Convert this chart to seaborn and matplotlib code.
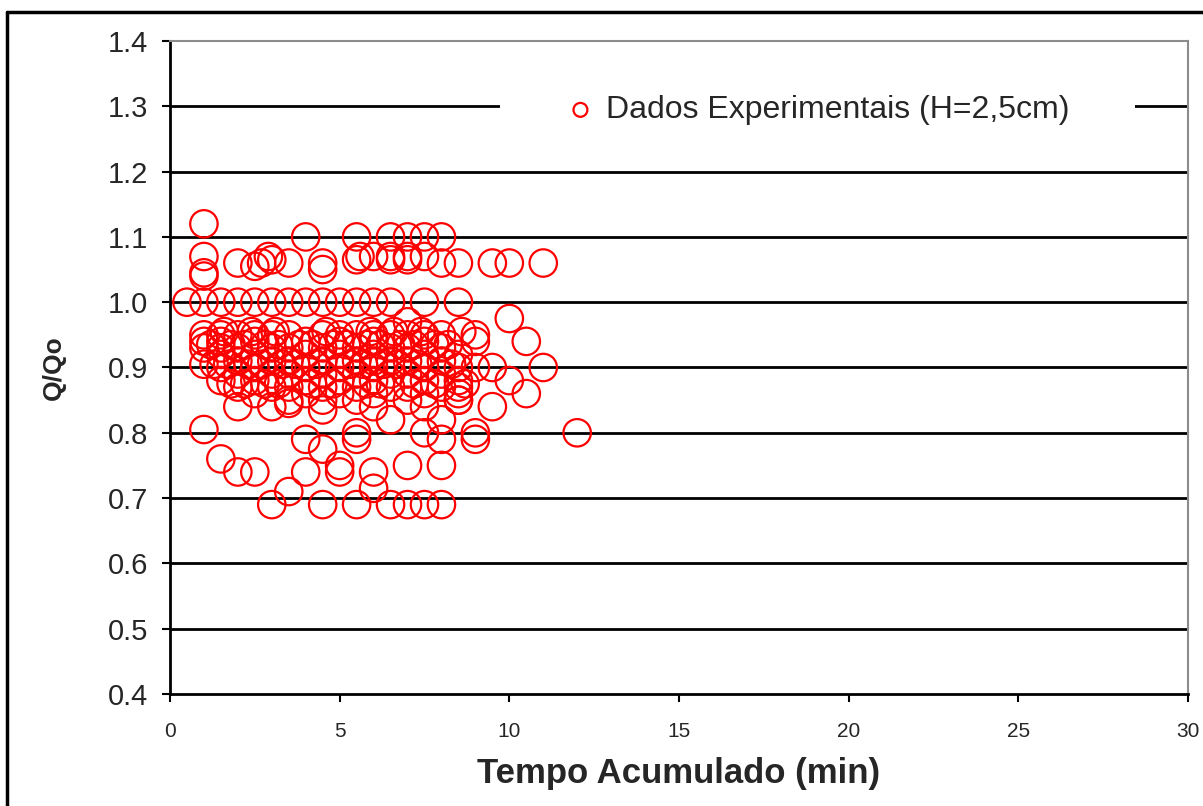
import numpy as np
import pandas as pd
import matplotlib
matplotlib.use("Agg")
import matplotlib.pyplot as plt
import seaborn as sns
from matplotlib.lines import Line2D
from matplotlib.patches import Rectangle

# ---------------------------------------------------------
# Data (Tempo Acumulado in min, Q/Qo)
# ---------------------------------------------------------
upper_x = [1, 1, 1, 1,
           4, 5.5, 6.5, 7, 7.5, 8,
           2, 2.5, 2.7, 3, 2.9, 3.5, 4.5, 4.5, 5.5, 5.6, 6, 6.5, 6.5,
           7, 7, 7.5, 8, 8.5, 9.5, 10, 11]
upper_y = [1.12, 1.07, 1.045, 1.04,
           1.10, 1.10, 1.10, 1.10, 1.10, 1.10,
           1.06, 1.055, 1.06, 1.065, 1.07, 1.06, 1.06, 1.05, 1.065, 1.07, 1.07, 1.065, 1.07,
           1.07, 1.065, 1.07, 1.06, 1.06, 1.06, 1.06, 1.06]

row1_x = [0.5, 1, 1.5, 2, 2.5, 3, 3.5, 4, 4.5, 5, 5.5, 6, 6.5, 7.5, 8.5]
row1_y = [1.0, 1.0, 1.0, 1.0, 1.0, 1.0, 1.0, 1.0, 1.0, 1.0, 1.0, 1.0, 1.0, 1.0, 1.0]

cluster_x = [1.5, 2, 2.5, 3, 3.5, 4.5, 5, 5.5, 6, 6.5, 7, 7.5, 8, 9,
             1.5, 2.5, 4, 5, 6, 7.5, 9,
             1.5, 2, 3, 3.5, 4.5, 5.5, 6.5, 7, 8,
             1.5, 2.5, 4, 5, 6, 7.5, 8.5,
             2, 3, 3.5, 4.5, 5.5, 6, 6.5, 7, 8,
             1.5, 2.5, 4, 5, 6, 7.5, 8.5, 9,
             2, 3, 3.5, 4.5, 5.5, 6.5, 7, 8,
             1.5, 2.5, 4, 5, 6, 7.5, 8.5,
             2, 3, 3.5, 4.5, 5.5, 6.5, 7, 8, 8.5,
             2.5, 4, 5, 6, 7.5, 8.5,
             3.5, 4.5, 5.5, 7, 8.5]
cluster_y = [0.95, 0.95, 0.95, 0.95, 0.95, 0.95, 0.95, 0.95, 0.95, 0.95, 0.95, 0.95, 0.95, 0.95,
             0.94, 0.94, 0.94, 0.94, 0.94, 0.94, 0.94,
             0.93, 0.93, 0.93, 0.93, 0.93, 0.93, 0.93, 0.93, 0.93,
             0.92, 0.92, 0.92, 0.92, 0.92, 0.92, 0.92,
             0.91, 0.91, 0.91, 0.91, 0.91, 0.91, 0.91, 0.91, 0.91,
             0.90, 0.90, 0.90, 0.90, 0.90, 0.90, 0.90, 0.90,
             0.89, 0.89, 0.89, 0.89, 0.89, 0.89, 0.89, 0.89,
             0.88, 0.88, 0.88, 0.88, 0.88, 0.88, 0.88,
             0.87, 0.87, 0.87, 0.87, 0.87, 0.87, 0.87, 0.87, 0.87,
             0.86, 0.86, 0.86, 0.86, 0.86, 0.86,
             0.85, 0.85, 0.85, 0.85, 0.85]

# in-between readings inside the dense band
dense_x = [1.2, 1.8, 2.2, 2.8, 3.2, 3.8, 4.2, 4.8, 5.2, 5.8, 6.2, 6.8, 7.2, 7.8, 8.2,
           1.3, 1.7, 2.3, 2.7, 3.3, 3.7, 4.3, 5.3, 5.7, 6.3, 6.7, 7.3, 8.3,
           1.8, 2.2, 2.8, 3.2, 4.2, 4.8, 5.8, 6.2, 7.2, 7.8, 8.7,
           1.6, 2.4, 3.1, 4.6, 5.9, 6.6, 7.4, 8.6]
dense_y = [0.935, 0.935, 0.935, 0.935, 0.935, 0.935, 0.935, 0.935, 0.935, 0.935, 0.935, 0.935, 0.935, 0.935, 0.935,
           0.905, 0.905, 0.905, 0.905, 0.905, 0.905, 0.905, 0.905, 0.905, 0.905, 0.905, 0.905, 0.905,
           0.875, 0.875, 0.875, 0.875, 0.875, 0.875, 0.875, 0.875, 0.875, 0.875, 0.875,
           0.955, 0.955, 0.955, 0.955, 0.955, 0.955, 0.955, 0.955]

side_x = [1, 1, 1, 1, 1,
          10, 7, 10.5, 11, 9.5, 10, 10.5, 9.5, 12,
          2, 3, 3.5, 4.5, 6, 7.5, 8.5, 6.5, 8]
side_y = [0.95, 0.94, 0.93, 0.905, 0.805,
          0.975, 0.97, 0.94, 0.90, 0.90, 0.88, 0.86, 0.84, 0.80,
          0.84, 0.84, 0.845, 0.835, 0.84, 0.84, 0.85, 0.82, 0.82]

lower_x = [1.5, 2, 2.5, 4, 4, 4.5, 5, 5, 5.5, 5.5, 6, 6, 3.5,
           7, 7.5, 8, 8, 9, 9,
           3, 4.5, 5.5, 6.5, 7, 7.5, 8]
lower_y = [0.76, 0.74, 0.74, 0.79, 0.74, 0.775, 0.75, 0.74, 0.80, 0.79, 0.74, 0.715, 0.71,
           0.75, 0.80, 0.79, 0.75, 0.80, 0.79,
           0.69, 0.69, 0.69, 0.69, 0.69, 0.69, 0.69]

x_ticks = [0, 5, 10, 15, 20, 25, 30]
y_ticks = [0.4, 0.5, 0.6, 0.7, 0.8, 0.9, 1.0, 1.1, 1.2, 1.3, 1.4]

df = pd.DataFrame({
    "tempo": upper_x + row1_x + cluster_x + dense_x + side_x + lower_x,
    "qqo": upper_y + row1_y + cluster_y + dense_y + side_y + lower_y,
})

# ---------------------------------------------------------
# Plot
# ---------------------------------------------------------
sns.set_style("white")
plt.rcParams["font.family"] = ["Liberation Sans", "DejaVu Sans"]

fig = plt.figure(figsize=(12.03, 8.06), dpi=100)
ax = fig.add_axes([0.1413, 0.139, 0.8462, 0.8101])

sns.scatterplot(data=df, x="tempo", y="qqo", color="red",
                label="Dados Experimentais (H=2,5cm)",
                s=390, linewidth=1.6, marker="o", ax=ax, zorder=3)
# open circles
pts = ax.collections[0]
pts.set_facecolor("none")
pts.set_edgecolor("red")

ax.set_xlim(0, 30)
ax.set_ylim(0.4, 1.4)
ax.set_xticks(x_ticks)
ax.set_yticks(y_ticks)
ax.set_yticklabels([f"{v:.1f}" for v in y_ticks], fontsize=21)
ax.set_xticklabels([str(v) for v in x_ticks], fontsize=15)

for v in y_ticks[1:-1]:
    ax.axhline(v, color="black", lw=2, zorder=1)

ax.tick_params(axis="both", direction="out", length=6, width=1.5, color="black",
               left=True, bottom=True)
ax.tick_params(axis="y", pad=10)
ax.tick_params(axis="x", pad=14)

for side in ["left", "bottom"]:
    ax.spines[side].set_color("black")
    ax.spines[side].set_linewidth(2)
for side in ["top", "right"]:
    ax.spines[side].set_color("#8c8c8c")
    ax.spines[side].set_linewidth(1.5)

ax.set_xlabel("Tempo Acumulado (min)", fontsize=25, fontweight="bold", labelpad=12)
ax.set_ylabel("Q/Qo", fontsize=19, fontweight="bold", labelpad=30)

# white band behind the legend, hiding the 1.3 gridline
ax.add_patch(Rectangle((0.324, 0.865), 0.624, 0.07, transform=ax.transAxes,
                       facecolor="white", edgecolor="none", zorder=2))
leg = ax.legend(loc="center", bbox_to_anchor=(0.634, 0.894), frameon=False,
                fontsize=23, handletextpad=0.2, handlelength=1.2)
for h in leg.legend_handles:
    h.set_facecolor("none")
    h.set_edgecolor("red")
    h.set_sizes([100])
    h.set_linewidth(1.6)

# outer frame of the figure
fig.add_artist(Line2D([7 / 1203, 7 / 1203], [0, 1 - 12 / 806],
                      transform=fig.transFigure, color="black", lw=2.5))
fig.add_artist(Line2D([7 / 1203, 1], [1 - 12 / 806, 1 - 12 / 806],
                      transform=fig.transFigure, color="black", lw=2.5))

fig.savefig("out.png", dpi=100)
